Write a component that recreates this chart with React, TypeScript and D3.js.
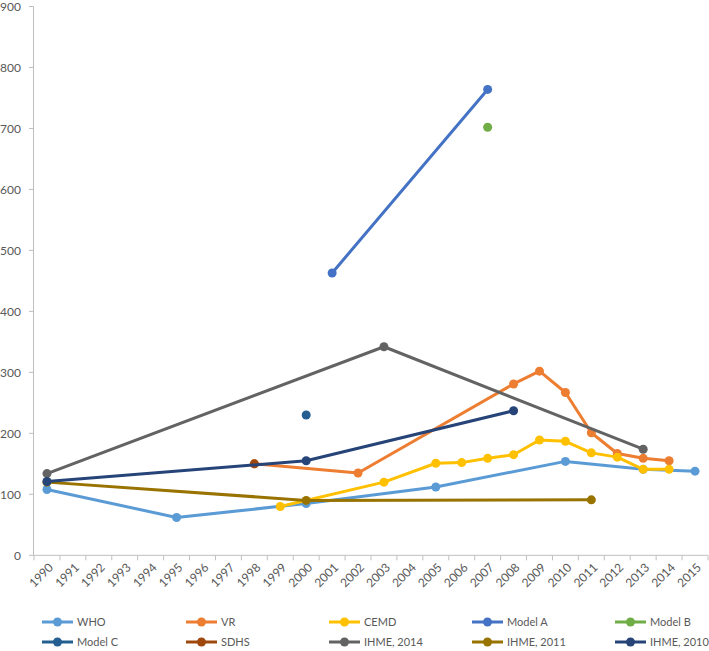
import React from "react";
import * as d3 from "d3";

const years: string[] = d3.range(1990, 2016).map(String);
const yTicks: number[] = [0, 100, 200, 300, 400, 500, 600, 700, 800, 900];

const seriesNames: string[] = ["WHO", "VR", "CEMD", "Model A", "Model B", "Model C", "SDHS", "IHME, 2014", "IHME, 2011", "IHME, 2010"];
const seriesColors: string[] = ["#5B9BD5", "#ED7D31", "#FFC000", "#4472C4", "#70AD47", "#255E91", "#9E480E", "#636363", "#997300", "#264478"];

const whoYears = ["1990", "1995", "2000", "2005", "2010", "2013", "2015"];
const whoValues = [108, 62, 85, 112, 154, 141, 138];
const vrYears = ["1998", "2002", "2008", "2009", "2010", "2011", "2012", "2013", "2014"];
const vrValues = [150, 135, 281, 302, 267, 201, 167, 159, 155];
const cemdYears = ["1999", "2003", "2005", "2006", "2007", "2008", "2009", "2010", "2011", "2012", "2013", "2014"];
const cemdValues = [80, 120, 151, 152, 159, 165, 189, 187, 168, 161, 141, 141];
const modelAYears = ["2001", "2007"];
const modelAValues = [463, 764];
const modelBYears = ["2007"];
const modelBValues = [702];
const modelCYears = ["2000"];
const modelCValues = [230];
const sdhsYears = ["1998"];
const sdhsValues = [150];
const ihme2014Years = ["1990", "2003", "2013"];
const ihme2014Values = [134, 342, 174];
const ihme2011Years = ["1990", "2000", "2011"];
const ihme2011Values = [120, 90, 91];
const ihme2010Years = ["1990", "2000", "2008"];
const ihme2010Values = [121, 155, 237];

const seriesYears = [whoYears, vrYears, cemdYears, modelAYears, modelBYears, modelCYears, sdhsYears, ihme2014Years, ihme2011Years, ihme2010Years];
const seriesValues = [whoValues, vrValues, cemdValues, modelAValues, modelBValues, modelCValues, sdhsValues, ihme2014Values, ihme2011Values, ihme2010Values];

const W = 709;
const H = 651;
const FONT = "Lato, 'Open Sans', sans-serif";

export default function App() {
  const x = d3.scaleBand<string>().domain(years).range([34, 708]).paddingInner(0).paddingOuter(0);
  const bw = x.bandwidth();
  const cx = (yr: string) => (x(yr) as number) + bw / 2;
  const y = d3.scaleLinear().domain([0, 900]).range([555.3, 6.5]);
  const line = d3.line<[number, number]>().x((d) => d[0]).y((d) => d[1]);

  const boundaries = d3.range(0, years.length + 1).map((i) => 34 + i * bw);

  const legendCols = [42, 186, 329, 472, 615];
  const legendRows = [622, 642];

  return (
    <svg width={W} height={H} style={{ position: "absolute", left: 0, top: 0, background: "#fff" }} fontFamily={FONT}>
      {/* y axis */}
      <line x1={33.5} x2={33.5} y1={y(900)} y2={y(0)} stroke="#BFBFBF" strokeWidth={1} />
      {yTicks.map((t) => (
        <g key={t}>
          <line x1={29} x2={33.5} y1={y(t)} y2={y(t)} stroke="#BFBFBF" strokeWidth={1} />
          <text x={21} y={y(t)} dy="0.35em" textAnchor="end" fontSize={12} fill="#595959">{t}</text>
        </g>
      ))}
      {/* x axis */}
      <line x1={33.5} x2={708} y1={y(0)} y2={y(0)} stroke="#BFBFBF" strokeWidth={1} />
      {boundaries.map((b, i) => (
        <line key={i} x1={b} x2={b} y1={y(0)} y2={y(0) + 5} stroke="#BFBFBF" strokeWidth={1} />
      ))}
      {years.map((yr) => (
        <text key={yr} transform={`translate(${cx(yr) + 4},${y(0) + 10}) rotate(-45)`} textAnchor="end" fontSize={12} fill="#595959" dy="0.35em">{yr}</text>
      ))}
      {/* series */}
      {seriesNames.map((name, si) => {
        const pts: [number, number][] = seriesYears[si].map((yr, i) => [cx(yr), y(seriesValues[si][i])]);
        return (
          <g key={name}>
            {pts.length > 1 && (
              <path d={line(pts) || ""} fill="none" stroke={seriesColors[si]} strokeWidth={3} strokeLinejoin="round" strokeLinecap="round" />
            )}
            {pts.map((p, i) => (
              <circle key={i} cx={p[0]} cy={p[1]} r={4.5} fill={seriesColors[si]} />
            ))}
          </g>
        );
      })}
      {/* legend */}
      {seriesNames.map((name, si) => {
        const lx = legendCols[si % 5];
        const ly = legendRows[Math.floor(si / 5)];
        return (
          <g key={"lg" + name}>
            <line x1={lx} x2={lx + 31} y1={ly} y2={ly} stroke={seriesColors[si]} strokeWidth={3} />
            <circle cx={lx + 15.5} cy={ly} r={4.5} fill={seriesColors[si]} />
            <text x={lx + 35} y={ly} dy="0.35em" fontSize={11} fill="#595959">{name}</text>
          </g>
        );
      })}
    </svg>
  );
}
